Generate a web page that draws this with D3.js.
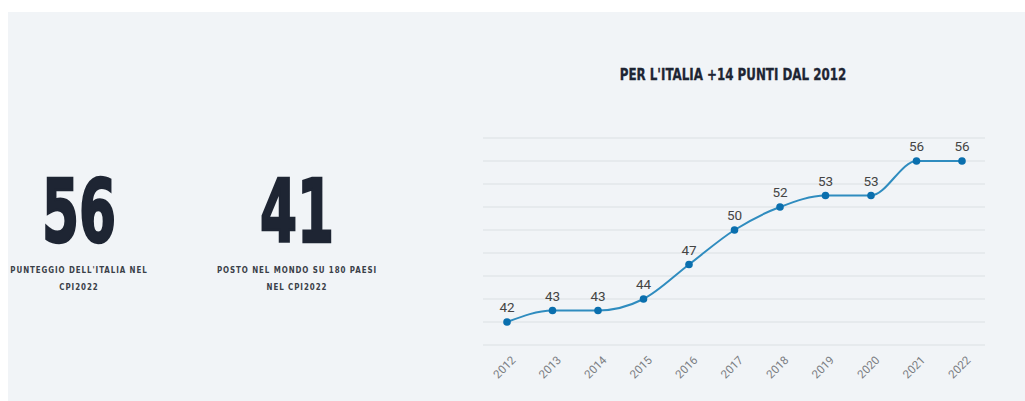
<!DOCTYPE html>
<html><head><meta charset="utf-8">
<script src="https://cdn.jsdelivr.net/npm/d3@7"></script>
<style>
html,body{margin:0;padding:0;background:#fff;}
svg{display:block;}
</style></head>
<body>
<svg id="c" width="1025" height="401"></svg>
<script>
const years = ["2012","2013","2014","2015","2016","2017","2018","2019","2020","2021","2022"];
const scores = [42,43,43,44,47,50,52,53,53,56,56];
const gridValues = [40,42,44,46,48,50,52,54,56,58];
const title = "PER L'ITALIA +14 PUNTI DAL 2012";
const kpiValues = ["56","41"];
const kpiCaptions = [["PUNTEGGIO DELL'ITALIA NEL","CPI2022"],["POSTO NEL MONDO SU 180 PAESI","NEL CPI2022"]];

const svg = d3.select("#c");
svg.append("rect").attr("x",8).attr("y",12).attr("width",1017).attr("height",389).attr("fill","#f1f4f7");

const condensed = "'DejaVu Sans Condensed','Liberation Sans Narrow',sans-serif";

// KPI blocks
const kpiX = d3.scaleOrdinal().domain(kpiValues).range([79,297]);
kpiValues.forEach((v,i)=>{
  const cx = kpiX(v);
  svg.append("text").attr("x",cx).attr("y",242).attr("text-anchor","middle")
    .attr("font-family",condensed).attr("font-weight","bold").attr("font-size",87)
    .attr("fill","#1e2533").attr("stroke","#1e2533").attr("stroke-width",2.5)
    .attr("transform",`translate(${cx},241) scale(0.68,1) translate(${-cx},-241)`)
    .text(v);
  kpiCaptions[i].forEach((line,j)=>{
    svg.append("text").attr("x",cx).attr("y",273+j*17).attr("text-anchor","middle")
      .attr("font-family",condensed).attr("font-weight","bold").attr("font-size",8.5)
      .attr("letter-spacing",1.0).attr("fill","#3a3f48")
      .attr("transform",`translate(${cx},0) scale(0.93,1) translate(${-cx},0)`)
      .text(line);
  });
});

// Title
svg.append("text").attr("x",733).attr("y",80).attr("text-anchor","middle")
  .attr("font-family",condensed).attr("font-weight","bold").attr("font-size",16.5)
  .attr("fill","#1e2533").attr("stroke","#1e2533").attr("stroke-width",0.3)
  .attr("transform","translate(733,0) scale(0.8,1) translate(-733,0)")
  .text(title);

// Chart
const x = d3.scalePoint().domain(years).range([507,962]);
const y = d3.scaleLinear().domain([40,58]).range([345,138]);

const g = svg.append("g");
g.selectAll("line.grid").data(gridValues).enter().append("line")
  .attr("x1",483).attr("x2",985).attr("y1",d=>y(d)).attr("y2",d=>y(d))
  .attr("stroke","#dcdfe3").attr("stroke-width",1.2);

const line = d3.line().x((d,i)=>x(years[i])).y(d=>y(d)).curve(d3.curveMonotoneX);
g.append("path").datum(scores).attr("d",line).attr("fill","none")
  .attr("stroke","#2f8cbf").attr("stroke-width",2);

g.selectAll("circle").data(scores).enter().append("circle")
  .attr("cx",(d,i)=>x(years[i])).attr("cy",d=>y(d)).attr("r",3.8).attr("fill","#0a6fae");

g.selectAll("text.val").data(scores).enter().append("text")
  .attr("x",(d,i)=>x(years[i])).attr("y",d=>y(d)-10).attr("text-anchor","middle")
  .attr("font-family","'Roboto','Liberation Sans',sans-serif").attr("font-size",13.5)
  .attr("fill","#444").text(d=>d);

const xAxis = d3.axisBottom(x).tickSize(0).tickPadding(0);
const ax = g.append("g").attr("transform","translate(0,360)").call(xAxis);
ax.select(".domain").remove();
ax.selectAll("text").attr("font-family","'Roboto','Liberation Sans',sans-serif").attr("font-size",11.5)
  .attr("fill","#7a7d82").attr("text-anchor","end").attr("dy","0.35em").attr("y",0)
  .attr("transform","translate(6,-2) rotate(-45)");
</script>
</body></html>
